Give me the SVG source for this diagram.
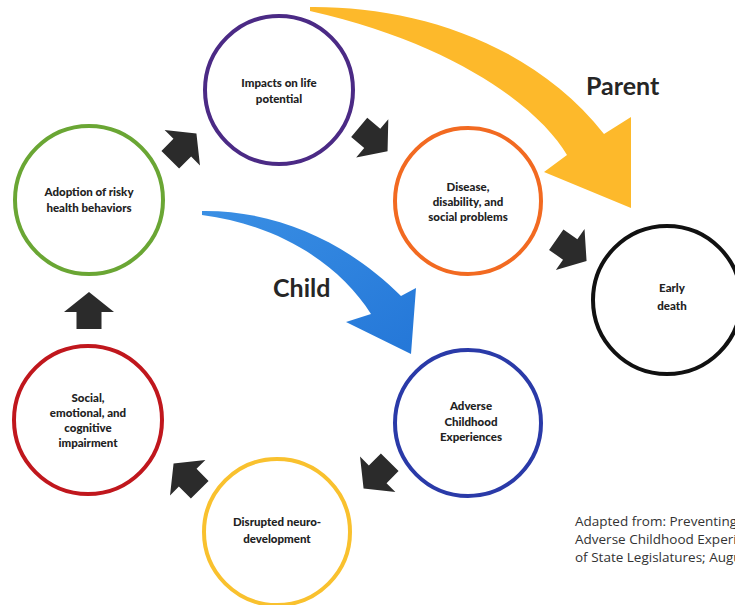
<svg xmlns="http://www.w3.org/2000/svg" width="735" height="605" viewBox="0 0 735 605">
  <defs>
    <style>
      .ring { fill: #ffffff; stroke-width: 4; }
      .lbl { font-family: Lato, "Open Sans", "Liberation Sans", sans-serif; font-weight: 900; font-size: 11.5px; fill: #222222; text-anchor: middle; }
      .big { font-family: Lato, "Open Sans", "Liberation Sans", sans-serif; font-weight: 700; font-size: 25px; fill: #262626; }
      .note { font-family: "Open Sans", "Liberation Sans", Arial, sans-serif; font-size: 13.5px; fill: #333333; }
      .step { fill: #2b2b2b; }
    </style>
    <!-- chunky block arrow, pointing up, centred on the origin -->
    <path id="block" d="M0,-19 L25,1 L12.5,1 L12.5,18 L-12.5,18 L-12.5,1 L-25,1 Z"/>
    <linearGradient id="blueFade" x1="0" y1="0" x2="1" y2="1">
      <stop offset="0" stop-color="#3a8fe4"/>
      <stop offset="1" stop-color="#2477d8"/>
    </linearGradient>
  </defs>

  <rect width="735" height="605" fill="#ffffff"/>

  <!-- large curved arrows -->
  <g id="connectors">
    <path id="parent-arrow" fill="#fdb92b" d="M310,7 C410,6 530,40 604,134 L631,117 L631,208 L544,172 L567,155 C540,110 460,45 310,11 Z"/>
    <path id="child-arrow" fill="url(#blueFade)" d="M202,211 C280,210 350,245 401,296 L416,288 L411,354 L346,322 L371,314 C340,265 280,225 202,215 Z"/>

    <!-- step arrows between the stages -->
    <use href="#block" class="step" transform="translate(89,311)"/>
    <use href="#block" class="step" transform="translate(183,147) rotate(45)"/>
    <use href="#block" class="step" transform="translate(373,139) rotate(130)"/>
    <use href="#block" class="step" transform="translate(571,250) rotate(125)"/>
    <use href="#block" class="step" transform="translate(377,475) rotate(225)"/>
    <use href="#block" class="step" transform="translate(187,477) rotate(-45)"/>
  </g>

  <g id="impacts">
    <circle class="ring" cx="279" cy="90" r="74" stroke="#4b2a85"/>
    <text class="lbl" x="279" y="87">Impacts on life</text>
    <text class="lbl" x="279" y="103">potential</text>
  </g>

  <g id="adoption">
    <circle class="ring" cx="89" cy="200" r="74" stroke="#6aa634"/>
    <text class="lbl" x="89" y="196">Adoption of risky</text>
    <text class="lbl" x="89" y="212">health behaviors</text>
  </g>

  <g id="disease">
    <circle class="ring" cx="468" cy="201" r="73" stroke="#f26a21"/>
    <text class="lbl" x="468" y="191">Disease,</text>
    <text class="lbl" x="468" y="206">disability, and</text>
    <text class="lbl" x="468" y="221">social problems</text>
  </g>

  <g id="early-death">
    <circle class="ring" cx="667" cy="300" r="74" stroke="#111111"/>
    <text class="lbl" x="672" y="292">Early</text>
    <text class="lbl" x="672" y="310">death</text>
  </g>

  <g id="adverse">
    <circle class="ring" cx="468" cy="423" r="73" stroke="#2a3aa8"/>
    <text class="lbl" x="471" y="410">Adverse</text>
    <text class="lbl" x="471" y="426">Childhood</text>
    <text class="lbl" x="471" y="441">Experiences</text>
  </g>

  <g id="disrupted">
    <circle class="ring" cx="277" cy="532" r="73" stroke="#f9c12e"/>
    <text class="lbl" x="277" y="526">Disrupted neuro-</text>
    <text class="lbl" x="277" y="543">development</text>
  </g>

  <g id="social">
    <circle class="ring" cx="88" cy="420" r="74" stroke="#c0171d"/>
    <text class="lbl" x="88" y="402">Social,</text>
    <text class="lbl" x="88" y="417">emotional, and</text>
    <text class="lbl" x="88" y="432">cognitive</text>
    <text class="lbl" x="88" y="447">impairment</text>
  </g>

  <text class="big" x="586" y="95">Parent</text>
  <text class="big" x="273" y="297">Child</text>

  <g id="source-note">
    <text class="note" x="575" y="526">Adapted from: Preventing</text>
    <text class="note" x="575" y="544">Adverse Childhood Experiences</text>
    <text class="note" x="575" y="562">of State Legislatures; August</text>
  </g>
</svg>
